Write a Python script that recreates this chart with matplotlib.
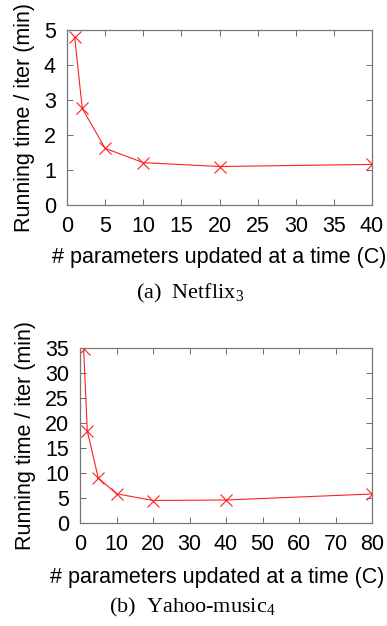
import matplotlib
matplotlib.use('Agg')
import matplotlib.pyplot as plt

plt.rcParams['font.family'] = ['Liberation Sans', 'DejaVu Sans']
plt.rcParams['font.size'] = 15.5
plt.rcParams['mathtext.fontset'] = 'custom'
plt.rcParams['mathtext.rm'] = 'Liberation Serif'

# netflix
c_netflix = [1, 2, 5, 10, 20, 40]
t_netflix = [4.81, 2.76, 1.62, 1.21, 1.10, 1.16]
# yahoo-music
c_yahoo = [1, 2, 5, 10, 20, 40, 80]
t_yahoo = [34.8, 18.4, 9.0, 5.85, 4.5, 4.6, 5.8]

xticks_netflix = [0, 5, 10, 15, 20, 25, 30, 35, 40]
yticks_netflix = [0, 1, 2, 3, 4, 5]
xticks_yahoo = [0, 10, 20, 30, 40, 50, 60, 70, 80]
yticks_yahoo = [0, 5, 10, 15, 20, 25, 30, 35]

W, H = 387, 626
fig = plt.figure(figsize=(W / 100, H / 100), dpi=100)

def box(l, t, r, b):
    return [l / W, 1 - b / H, (r - l) / W, (b - t) / H]

def draw(ax, x, y, xt, yt):
    ax.plot(x, y, color='#ff2020', lw=0.8, marker='x', ms=9, mew=0.8)
    ax.set_xlim(xt[0], xt[-1])
    ax.set_ylim(yt[0], yt[-1])
    ax.set_xticks(xt)
    ax.set_yticks(yt)
    ax.tick_params(direction='in', top=True, right=True, length=4,
                   width=0.6, color='#555555', pad=8)
    for s in ax.spines.values():
        s.set_color('#777777')
        s.set_linewidth(0.9)
    ax.set_xlabel('# parameters updated at a time (C)', labelpad=7)
    ax.set_ylabel('Running time / iter (min)', labelpad=6)

ax1 = fig.add_axes(box(67, 30, 372, 205))
draw(ax1, c_netflix, t_netflix, xticks_netflix, yticks_netflix)

ax2 = fig.add_axes(box(80, 348, 372, 523))
draw(ax2, c_yahoo, t_yahoo, xticks_yahoo, yticks_yahoo)
# label sits a bit left of the axes centre, like the top one
ax2.xaxis.set_label_coords((217 - 80) / 292, -0.25)

fig.text(190 / W, 1 - 293 / H, '(a)  Netflix$_3$', ha='center', va='center',
         family='Liberation Serif', fontsize=16)
fig.text(192 / W, 1 - 607 / H, '(b)  Yahoo-music$_4$', ha='center', va='center',
         family='Liberation Serif', fontsize=16)

fig.savefig('out.png', dpi=100)
